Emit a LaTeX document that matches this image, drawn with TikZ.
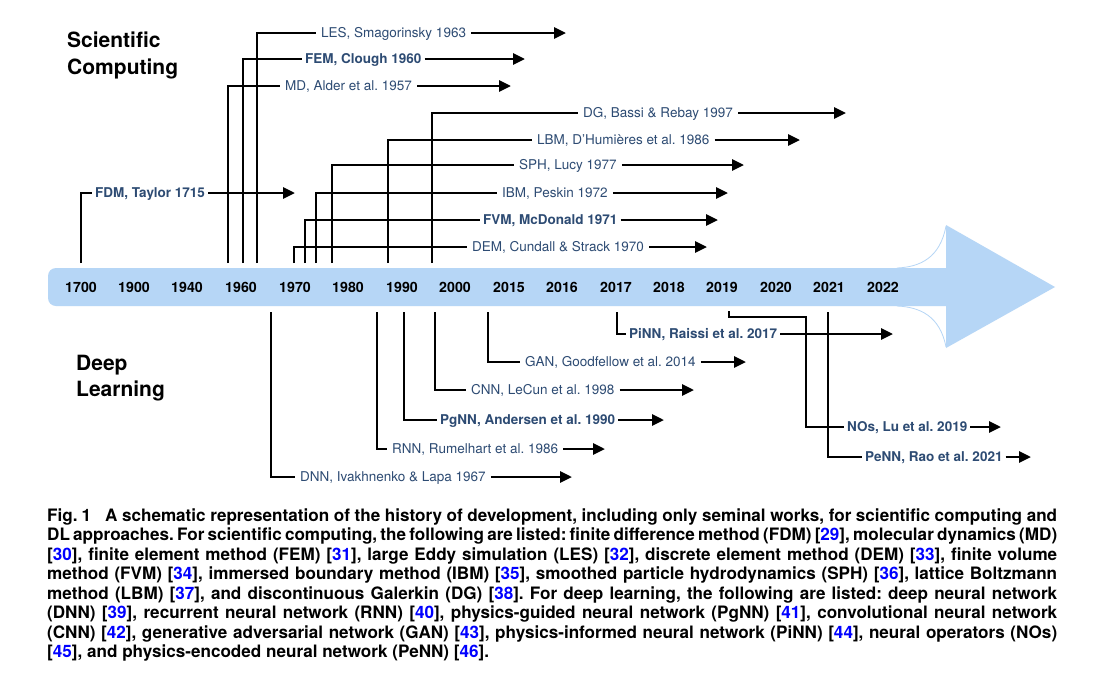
\documentclass[tikz,border=0pt]{standalone}
\usepackage{fontspec}
\setmainfont{TeX Gyre Heros}
\usetikzlibrary{arrows.meta}
\definecolor{band}{RGB}{182,214,246}
\definecolor{lbl}{RGB}{45,75,115}
\definecolor{refblue}{RGB}{0,0,255}
\newcommand\rf[1]{[\textcolor{refblue}{#1}]}
\frenchspacing
\begin{document}
\begin{tikzpicture}[x=1pt,y=-1pt,
  ln/.style={line width=2.8pt},
  arr/.style={line width=2.8pt,-{Triangle[length=12pt,width=11pt]}},
  lab/.style={font=\fontsize{13.5}{15}\selectfont, text=lbl, inner xsep=5pt, inner ysep=0pt, text height=9.7pt, text depth=0pt, anchor=west},
  blab/.style={lab, font=\bfseries\fontsize{13.5}{15}\selectfont, inner xsep=3pt},
  yr/.style={font=\bfseries\fontsize{14.2}{16}\selectfont, inner sep=0pt, text height=10pt, text depth=0pt},
  head/.style={font=\bfseries\fontsize{21}{25}\selectfont, inner sep=0pt, anchor=base west}]
\useasboundingbox (0,0) rectangle (1099,678);
\fill[white] (0,0) rectangle (1099,678);

% big timeline arrow
\fill[band, rounded corners=8pt] (48,268) rectangle (960,306);
\fill[band] (946,225) -- (1055,287) -- (946,348) -- cycle;
\draw[band, line width=0.8pt] (946,226) .. controls (940,258) and (920,267) .. (897,268);
\draw[band, line width=0.8pt] (946,347) .. controls (940,316) and (920,307) .. (897,306);

% years
\node[yr] (y1700) at (81,287) {1700};
\node[yr] (y1900) at (134,287) {1900};
\node[yr] (y1940) at (187,287) {1940};
\node[yr] (y1960) at (241,287) {1960};
\node[yr] (y1970) at (295,287) {1970};
\node[yr] (y1980) at (348,287) {1980};
\node[yr] (y1990) at (402,287) {1990};
\node[yr] (y2000) at (455,287) {2000};
\node[yr] (y2015) at (509,287) {2015};
\node[yr] (y2016) at (562,287) {2016};
\node[yr] (y2017) at (616,287) {2017};
\node[yr] (y2018) at (669,287) {2018};
\node[yr] (y2019) at (722,287) {2019};
\node[yr] (y2020) at (776,287) {2020};
\node[yr] (y2021) at (829,287) {2021};
\node[yr] (y2022) at (883,287) {2022};

% headings
\node[head] (sc1) at (67,47) {Scientific};
\node[head] (sc2) at (67,74) {Computing};
\node[head] (dl1) at (76,370) {Deep};
\node[head] (dl2) at (76,396) {Learning};

% ---------- scientific computing ----------
\node[lab]  (les) at (316,33)  {LES, Smagorinsky 1963};
\node[blab] (fem) at (302,59)  {FEM, Clough 1960};
\node[lab]  (md)  at (280,86)  {MD, Alder et al. 1957};
\node[lab]  (dg)  at (578,113) {DG, Bassi \& Rebay 1997};
\node[lab]  (lbm) at (532,140) {LBM, D'Humières et al. 1986};
\node[lab]  (sph) at (514,165) {SPH, Lucy 1977};
\node[blab] (fdm) at (92,193)  {FDM, Taylor 1715};
\node[lab]  (ibm) at (497,193) {IBM, Peskin 1972};
\node[blab] (fvm) at (480,220) {FVM, McDonald 1971};
\node[lab]  (dem) at (467,247) {DEM, Cundall \& Strack 1970};

\coordinate (lesS) at (257,263); \coordinate (lesT) at (566,33);
\coordinate (femS) at (243,263); \coordinate (femT) at (525,59);
\coordinate (mdS)  at (228,263); \coordinate (mdT)  at (511,86);
\coordinate (dgS)  at (432,263); \coordinate (dgT)  at (846,113);
\coordinate (lbmS) at (388,263); \coordinate (lbmT) at (800,140);
\coordinate (sphS) at (332,263); \coordinate (sphT) at (744,165);
\coordinate (fdmS) at (81,263);  \coordinate (fdmT) at (295,193);
\coordinate (ibmS) at (316,263); \coordinate (ibmT) at (728,193);
\coordinate (fvmS) at (305,263); \coordinate (fvmT) at (718,220);
\coordinate (demS) at (294,263); \coordinate (demT) at (707,247);

\foreach \n in {les,fem,md,dg,lbm,sph,fdm,ibm,fvm,dem}{
  \draw[ln] (\n S) |- (\n);
  \draw[arr] (\n) -- (\n T);
}

% ---------- deep learning ----------
\node[lab]  (dnn)  at (295,477) {DNN, Ivakhnenko \& Lapa 1967};
\node[lab]  (rnn)  at (387,449) {RNN, Rumelhart et al. 1986};
\node[blab] (pgnn) at (437,420) {PgNN, Andersen et al. 1990};
\node[lab]  (cnn)  at (466,390) {CNN, LeCun et al. 1998};
\node[lab]  (gan)  at (520,362) {GAN, Goodfellow et al. 2014};
\node[blab] (pinn) at (626,334) {PiNN, Raissi et al. 2017};
\node[blab] (nos)  at (844,427) {NOs, Lu et al. 2019};
\node[blab] (penn) at (862,457) {PeNN, Rao et al. 2021};

\coordinate (dnnS)  at (271,312); \coordinate (dnnT)  at (572,477);
\coordinate (rnnS)  at (377,312); \coordinate (rnnT)  at (605,449);
\coordinate (pgnnS) at (404,312); \coordinate (pgnnT) at (664,420);
\coordinate (cnnS)  at (435,312); \coordinate (cnnT)  at (694,390);
\coordinate (ganS)  at (488,312); \coordinate (ganT)  at (746,362);
\coordinate (pinnS) at (617,312); \coordinate (pinnT) at (893,334);
\coordinate (nosS)  at (729,311); \coordinate (nosK)  at (806,317); \coordinate (nosT) at (1001,427);
\coordinate (pennS) at (828,312); \coordinate (pennT) at (1031,457);

\foreach \n in {dnn,rnn,pgnn,cnn,gan,pinn,penn}{
  \draw[ln] (\n S) |- (\n);
  \draw[arr] (\n) -- (\n T);
}
\draw[ln] (nosS) |- (nosK) |- (nos);
\draw[arr] (nos) -- (nosT);

% ---------- caption ----------
\node[anchor=north west, inner sep=0pt, align=left,
      font=\bfseries\fontsize{17.1}{19.5}\selectfont] (cap) at (47,508.5) {%
\makebox[1010pt][s]{\mbox{Fig.\kern4pt1}\hspace{14pt}A schematic representation of the history of development, including only seminal works, for scientific computing and}\\
\makebox[1010pt][s]{DL approaches. For scientific computing, the following are listed: finite difference method (FDM) \rf{29}, molecular dynamics (MD)}\\
\makebox[1010pt][s]{\rf{30}, finite element method (FEM) \rf{31}, large Eddy simulation (LES) \rf{32}, discrete element method (DEM) \rf{33}, finite volume}\\
\makebox[1010pt][s]{method (FVM) \rf{34}, immersed boundary method (IBM) \rf{35}, smoothed particle hydrodynamics (SPH) \rf{36}, lattice Boltzmann}\\
\makebox[1010pt][s]{method (LBM) \rf{37}, and discontinuous Galerkin (DG) \rf{38}. For deep learning, the following are listed: deep neural network}\\
\makebox[1010pt][s]{(DNN) \rf{39}, recurrent neural network (RNN) \rf{40}, physics-guided neural network (PgNN) \rf{41}, convolutional neural network}\\
\makebox[1010pt][s]{(CNN) \rf{42}, generative adversarial network (GAN) \rf{43}, physics-informed neural network (PiNN) \rf{44}, neural operators (NOs)}\\
\rf{45}, and physics-encoded neural network (PeNN) \rf{46}.};
\end{tikzpicture}
\end{document}
